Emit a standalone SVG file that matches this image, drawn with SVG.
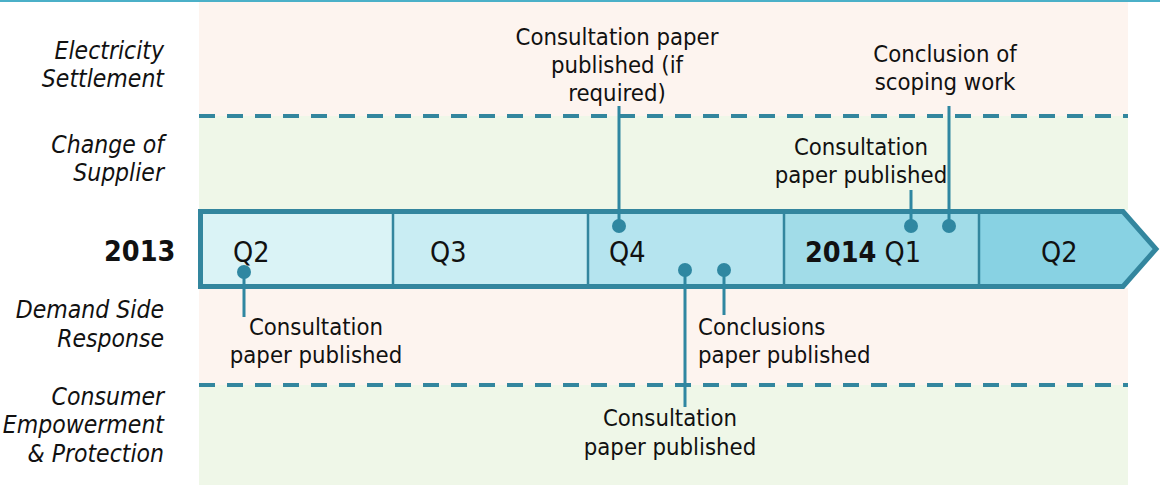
<svg xmlns="http://www.w3.org/2000/svg" width="1160" height="485" viewBox="0 0 1160 485">
<style>
.t{font-family:"DejaVu Sans Condensed","DejaVu Sans",sans-serif;font-stretch:condensed;font-size:23.7px;fill:#111}
.lab{font-style:italic;text-anchor:end;font-size:24.5px}
.c{text-anchor:middle}
.q{font-size:28.5px}
.b{font-weight:bold}
.dash{stroke:#33869e;stroke-width:4;stroke-dasharray:16 12}
.con{stroke:#2f87a1;stroke-width:3;fill:none}
.dot{fill:#2f87a1}
.div{stroke:#33869e;stroke-width:2.5}
</style>
<rect width="1160" height="485" fill="#ffffff"/>
<g id="bands">
<rect x="199" y="1" width="929" height="115" fill="#fdf4ef"/>
<rect x="199" y="116" width="929" height="94" fill="#eff7e8"/>
<rect x="199" y="288" width="929" height="97" fill="#fdf4ef"/>
<rect x="199" y="385" width="929" height="100" fill="#eff7e8"/>
<line x1="0" y1="1" x2="1160" y2="1" stroke="#4bb0c8" stroke-width="2"/>
<line class="dash" x1="199" y1="116" x2="1128" y2="116"/>
<line class="dash" x1="199" y1="385" x2="1128" y2="385"/>
</g>
<g id="row-labels">
<text class="t lab" x="164" y="59">Electricity</text>
<text class="t lab" x="164" y="87">Settlement</text>
<text class="t lab" x="164" y="153">Change of</text>
<text class="t lab" x="164" y="181">Supplier</text>
<text class="t lab" x="164" y="318">Demand Side</text>
<text class="t lab" x="164" y="347">Response</text>
<text class="t lab" x="164" y="405">Consumer</text>
<text class="t lab" x="164" y="433">Empowerment</text>
<text class="t lab" x="164" y="462">&amp; Protection</text>
<text class="t q b" x="104" y="261">2013</text>
</g>
<g id="timeline">
<rect x="200" y="211.5" width="193" height="75" fill="#daf3f6"/>
<rect x="393" y="211.5" width="195" height="75" fill="#c9edf3"/>
<rect x="588" y="211.5" width="196" height="75" fill="#b5e4ef"/>
<rect x="784" y="211.5" width="195" height="75" fill="#a1dce8"/>
<path d="M979 211.5 H1123 L1156 249 L1123 286.5 H979 Z" fill="#88d2e3"/>
<line class="div" x1="393" y1="212" x2="393" y2="286"/>
<line class="div" x1="588" y1="212" x2="588" y2="286"/>
<line class="div" x1="784" y1="212" x2="784" y2="286" stroke-width="5"/>
<line class="div" x1="979" y1="212" x2="979" y2="286"/>
<path d="M200.5 211.5 H1123 L1156 249 L1123 286.5 H200.5 Z" fill="none" stroke="#33869e" stroke-width="5"/>
<text class="t q" x="233" y="262">Q2</text>
<text class="t q" x="430" y="262">Q3</text>
<text class="t q" x="609" y="262">Q4</text>
<text class="t q" x="805" y="262"><tspan class="b">2014</tspan> Q1</text>
<text class="t q" x="1041" y="262">Q2</text>
</g>
<g id="connectors">
<line class="con" x1="244" y1="272" x2="244" y2="317"/>
<line class="con" x1="619" y1="226" x2="619" y2="106"/>
<line class="con" x1="685" y1="270" x2="685" y2="407"/>
<line class="con" x1="724" y1="270" x2="724" y2="315"/>
<line class="con" x1="911" y1="226" x2="911" y2="190"/>
<line class="con" x1="949" y1="226" x2="949" y2="106"/>
<circle class="dot" cx="244" cy="272" r="7"/>
<circle class="dot" cx="619" cy="226" r="7"/>
<circle class="dot" cx="685" cy="270" r="7"/>
<circle class="dot" cx="724" cy="270" r="7"/>
<circle class="dot" cx="911" cy="226" r="7"/>
<circle class="dot" cx="949" cy="226" r="7"/>
</g>
<g id="m1">
<text class="t c" x="617" y="45">Consultation paper</text>
<text class="t c" x="617" y="73">published (if</text>
<text class="t c" x="617" y="101">required)</text>
</g>
<g id="m2">
<text class="t c" x="945" y="62">Conclusion of</text>
<text class="t c" x="945" y="90">scoping work</text>
</g>
<g id="m3">
<text class="t c" x="861" y="155">Consultation</text>
<text class="t c" x="861" y="183">paper published</text>
</g>
<g id="m4">
<text class="t c" x="316" y="335">Consultation</text>
<text class="t c" x="316" y="363">paper published</text>
</g>
<g id="m5">
<text class="t" x="698" y="335">Conclusions</text>
<text class="t" x="698" y="363">paper published</text>
</g>
<g id="m6">
<text class="t c" x="670" y="426">Consultation</text>
<text class="t c" x="670" y="455">paper published</text>
</g>
</svg>
